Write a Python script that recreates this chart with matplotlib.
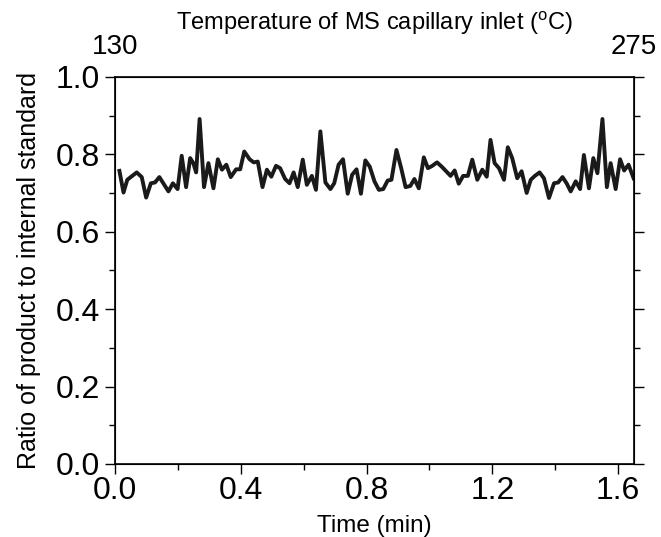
import numpy as np
import matplotlib.pyplot as plt

plt.rcParams['font.family'] = ['Liberation Sans', 'DejaVu Sans']

# values
time_min = [0.014, 0.027, 0.039, 0.069, 0.085, 0.099, 0.114, 0.127, 0.141, 0.170,
            0.184, 0.199, 0.212, 0.226, 0.239, 0.249, 0.258, 0.269, 0.283, 0.297,
            0.313, 0.327, 0.340, 0.354, 0.368, 0.385, 0.398, 0.411, 0.428, 0.441,
            0.454, 0.469, 0.483, 0.497, 0.512, 0.525, 0.541, 0.555, 0.568, 0.581,
            0.597, 0.610, 0.626, 0.639, 0.653, 0.669, 0.685, 0.697, 0.711, 0.725,
            0.740, 0.754, 0.768, 0.782, 0.796, 0.810, 0.825, 0.839, 0.853, 0.867,
            0.879, 0.895, 0.910, 0.924, 0.939, 0.952, 0.966, 0.982, 0.995, 1.009,
            1.024, 1.040, 1.053, 1.067, 1.080, 1.093, 1.107, 1.122, 1.136, 1.152,
            1.168, 1.182, 1.194, 1.207, 1.221, 1.237, 1.249, 1.263, 1.279, 1.293,
            1.309, 1.322, 1.335, 1.350, 1.364, 1.380, 1.396, 1.409, 1.423, 1.436,
            1.449, 1.465, 1.479, 1.491, 1.507, 1.521, 1.534, 1.550, 1.564, 1.576,
            1.592, 1.606, 1.619, 1.633, 1.649]
ratio = [0.757, 0.701, 0.734, 0.753, 0.741, 0.688, 0.725, 0.727, 0.741, 0.704,
         0.725, 0.710, 0.796, 0.715, 0.790, 0.777, 0.753, 0.891, 0.715, 0.777,
         0.712, 0.787, 0.760, 0.773, 0.741, 0.761, 0.761, 0.807, 0.787, 0.779,
         0.781, 0.715, 0.760, 0.742, 0.770, 0.764, 0.736, 0.725, 0.753, 0.715,
         0.786, 0.721, 0.744, 0.708, 0.859, 0.727, 0.710, 0.725, 0.773, 0.787,
         0.698, 0.747, 0.761, 0.698, 0.784, 0.768, 0.730, 0.708, 0.710, 0.732,
         0.734, 0.811, 0.764, 0.715, 0.718, 0.736, 0.712, 0.792, 0.764, 0.770,
         0.779, 0.767, 0.756, 0.744, 0.758, 0.724, 0.744, 0.744, 0.786, 0.734,
         0.760, 0.742, 0.837, 0.777, 0.764, 0.734, 0.818, 0.790, 0.738, 0.756,
         0.700, 0.734, 0.744, 0.753, 0.738, 0.687, 0.725, 0.727, 0.741, 0.725,
         0.704, 0.730, 0.710, 0.798, 0.712, 0.790, 0.751, 0.891, 0.715, 0.777,
         0.710, 0.787, 0.758, 0.773, 0.738]
temp_ticks = [130, 275]

fig = plt.figure(figsize=(6.61, 5.37), dpi=100)
ax = fig.add_axes([0.174, 0.136, 0.785, 0.721])
ax.plot(time_min, ratio, color='#1a1a1a', lw=2.8)

ax.set_xlim(0, 1.65)
ax.set_ylim(0, 1.0)
ax.set_xticks(np.arange(0, 1.61, 0.4))
ax.set_xticks(np.arange(0.2, 1.61, 0.4), minor=True)
ax.set_yticks(np.arange(0, 1.01, 0.2))
ax.set_yticks(np.arange(0.1, 1.0, 0.2), minor=True)
ax.xaxis.set_major_formatter(plt.FormatStrFormatter('%.1f'))
ax.yaxis.set_major_formatter(plt.FormatStrFormatter('%.1f'))
ax.tick_params(which='major', labelsize=23, length=7, width=1, right=True)
ax.tick_params(which='minor', length=4, width=1, right=True)
ax.tick_params(axis='y', which='both', labelright=False, pad=4)
ax.tick_params(axis='x', which='both', pad=2)
for sp in ax.spines.values():
    sp.set_linewidth(1.2)

ax.set_xlabel('Time (min)', fontsize=17.5, labelpad=6)
ax.set_ylabel('Ratio of product to internal standard', fontsize=18, labelpad=10)

top = ax.twiny()
top.set_xlim(temp_ticks[0], temp_ticks[1])
top.set_xticks(temp_ticks)
top.tick_params(axis='x', length=0, labelsize=20, pad=12)
top.set_xlabel('Temperature of MS capillary inlet ($^{\\mathregular{o}}$C)', fontsize=17, labelpad=3)

fig.savefig('out.png', dpi=100)
